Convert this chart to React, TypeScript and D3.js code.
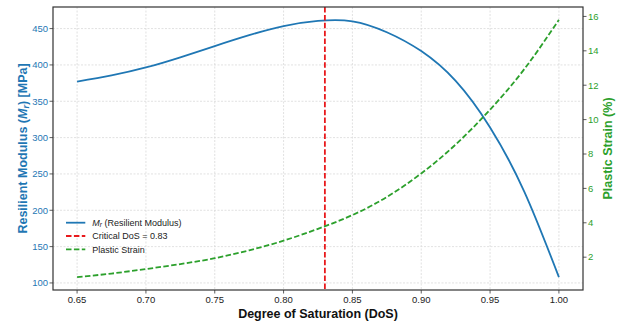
import React from "react";
import * as d3 from "d3";

const dosValues = [0.65, 0.675, 0.7, 0.725, 0.75, 0.775, 0.8, 0.825, 0.85, 0.875, 0.9, 0.925, 0.95, 0.975, 1.0];
const mrValues = [377, 385.5, 396.5, 410.5, 426, 441, 453.5, 460.5, 460, 445, 419, 378, 314, 225, 108];

const strainDos = [0.65, 0.675, 0.7, 0.725, 0.75, 0.775, 0.8, 0.825, 0.85, 0.875, 0.9, 0.925, 0.95, 0.975, 1.0];
const strainValues = [0.84, 1.05, 1.31, 1.6, 1.94, 2.4, 2.96, 3.65, 4.45, 5.5, 6.87, 8.55, 10.58, 12.95, 15.8];

const criticalDos = 0.83;
const xTicks = [0.65, 0.7, 0.75, 0.8, 0.85, 0.9, 0.95, 1.0];
const leftTicks = [100, 150, 200, 250, 300, 350, 400, 450];
const rightTicks = [2, 4, 6, 8, 10, 12, 14, 16];

const W = 622, H = 323;
const M = { left: 53, right: 583, top: 7, bottom: 290 };
const BLUE = "#1f77b4";
const GREEN = "#2ca02c";
const RED = "#e8191c";
const FONT = "'Liberation Sans', Arial, sans-serif";

function pad(min: number, max: number) {
  const r = max - min;
  return [min - r * 0.05, max + r * 0.05];
}

export default function App() {
  const xAll = dosValues.concat(strainDos);
  const [x0, x1] = pad(d3.min(xAll)!, d3.max(xAll)!);
  const x = d3.scaleLinear().domain([x0, x1]).range([M.left, M.right]);
  const [l0, l1] = pad(d3.min(mrValues)!, 462);
  const yL = d3.scaleLinear().domain([l0, l1]).range([M.bottom, M.top]);
  const [r0, r1] = pad(d3.min(strainValues)!, d3.max(strainValues)!);
  const yR = d3.scaleLinear().domain([r0, r1]).range([M.bottom, M.top]);

  const mrLine = d3
    .line<number>()
    .x((_, i) => x(dosValues[i]))
    .y((d) => yL(d))
    .curve(d3.curveNatural)(mrValues)!;
  const strainLine = d3
    .line<number>()
    .x((_, i) => x(strainDos[i]))
    .y((d) => yR(d))
    .curve(d3.curveNatural)(strainValues)!;

  const cx = (M.left + M.right) / 2;
  const cy = (M.top + M.bottom) / 2;
  const legendY = [222.7, 236, 249.3];

  return (
    <svg width={W} height={H} style={{ position: "absolute", left: 0, top: 0 }} fontFamily={FONT}>
      <rect x={0} y={0} width={W} height={H} fill="#fff" />
      {/* grid */}
      {xTicks.map((t) => (
        <line key={"gx" + t} x1={x(t)} x2={x(t)} y1={M.top} y2={M.bottom} stroke="#d9d9d9" strokeWidth={0.8} strokeDasharray="2,1.5" />
      ))}
      {leftTicks.map((t) => (
        <line key={"gy" + t} x1={M.left} x2={M.right} y1={yL(t)} y2={yL(t)} stroke="#d9d9d9" strokeWidth={0.8} strokeDasharray="2,1.5" />
      ))}
      {/* lines */}
      <path d={mrLine} fill="none" stroke={BLUE} strokeWidth={1.8} />
      <line x1={x(criticalDos)} x2={x(criticalDos)} y1={M.top} y2={M.bottom} stroke={RED} strokeWidth={1.8} strokeDasharray="5.5,2.4" />
      <path d={strainLine} fill="none" stroke={GREEN} strokeWidth={1.8} strokeDasharray="5.5,2.4" />
      {/* spines */}
      <rect x={M.left} y={M.top} width={M.right - M.left} height={M.bottom - M.top} fill="none" stroke="#333" strokeWidth={1.2} />
      {/* x ticks */}
      {xTicks.map((t) => (
        <g key={"xt" + t}>
          <line x1={x(t)} x2={x(t)} y1={M.bottom} y2={M.bottom + 3.5} stroke="#333" strokeWidth={0.8} />
          <text x={x(t)} y={M.bottom + 13} textAnchor="middle" fontSize={9.5} fill="#222">
            {t.toFixed(2)}
          </text>
        </g>
      ))}
      {/* left ticks */}
      {leftTicks.map((t) => (
        <g key={"lt" + t}>
          <line x1={M.left - 3.5} x2={M.left} y1={yL(t)} y2={yL(t)} stroke="#333" strokeWidth={0.8} />
          <text x={M.left - 5} y={yL(t) + 3.3} textAnchor="end" fontSize={9.5} fill={BLUE}>
            {t}
          </text>
        </g>
      ))}
      {/* right ticks */}
      {rightTicks.map((t) => (
        <g key={"rt" + t}>
          <line x1={M.right} x2={M.right + 3.5} y1={yR(t)} y2={yR(t)} stroke="#333" strokeWidth={0.8} />
          <text x={M.right + 5} y={yR(t) + 3.3} textAnchor="start" fontSize={9.5} fill={GREEN}>
            {t}
          </text>
        </g>
      ))}
      {/* axis labels */}
      <text x={cx} y={318} textAnchor="middle" fontSize={12.5} fontWeight="bold" fill="#111">
        Degree of Saturation (DoS)
      </text>
      <text transform={`translate(26.5,${cy}) rotate(-90)`} textAnchor="middle" fontSize={12.5} fontWeight="bold" fill={BLUE}>
        Resilient Modulus (<tspan fontStyle="italic">M</tspan>
        <tspan fontStyle="italic" fontSize={9} dy={2}>r</tspan>
        <tspan dy={-2}>) [MPa]</tspan>
      </text>
      <text transform={`translate(612,${cy}) rotate(-90)`} textAnchor="middle" fontSize={12.5} fontWeight="bold" fill={GREEN}>
        Plastic Strain (%)
      </text>
      {/* legend */}
      <g fontSize={9} fill="#222">
        <line x1={66} x2={85.3} y1={legendY[0]} y2={legendY[0]} stroke={BLUE} strokeWidth={1.8} />
        <text x={92.3} y={legendY[0] + 3.2}>
          <tspan fontStyle="italic">M</tspan>
          <tspan fontStyle="italic" fontSize={6.5} dy={1.5}>r</tspan>
          <tspan dy={-1.5}> (Resilient Modulus)</tspan>
        </text>
        <line x1={66} x2={85.3} y1={legendY[1]} y2={legendY[1]} stroke={RED} strokeWidth={1.8} strokeDasharray="5.5,2.4" />
        <text x={92.3} y={legendY[1] + 3.2}>Critical DoS = {criticalDos.toFixed(2)}</text>
        <line x1={66} x2={85.3} y1={legendY[2]} y2={legendY[2]} stroke={GREEN} strokeWidth={1.8} strokeDasharray="5.5,2.4" />
        <text x={92.3} y={legendY[2] + 3.2}>Plastic Strain</text>
      </g>
    </svg>
  );
}
